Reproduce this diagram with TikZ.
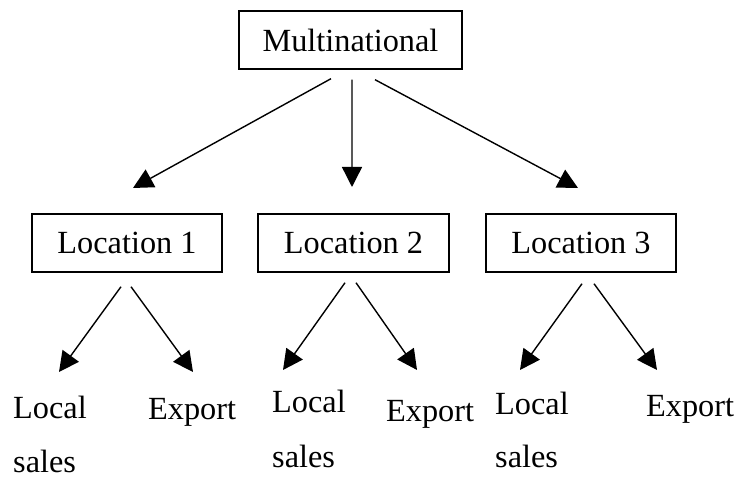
\documentclass[tikz,border=0pt]{standalone}
\usepackage{fontspec}
\setmainfont{Liberation Serif}
\usetikzlibrary{arrows.meta}
\begin{document}
\begin{tikzpicture}[x=1bp,y=1bp,
  every node/.style={font=\fontsize{32.3bp}{38bp}\selectfont, inner sep=0pt},
  boxnode/.style={draw, line width=1.4bp, minimum height=58bp},
  leaf/.style={anchor=base west},
  arr/.style={line width=1.4bp, -{Triangle[length=20bp,width=20bp]}}]
\useasboundingbox (0,0) rectangle (741,480);
% boxes
\node[boxnode, minimum width=223bp] (m) at (350.5,440) {Multinational};
\node[boxnode, minimum width=190bp] (l1) at (127,237) {Location 1};
\node[boxnode, minimum width=191bp] (l2) at (353.5,237) {Location 2};
\node[boxnode, minimum width=190bp] (l3) at (581,237) {Location 3};
% leaf texts
\node[leaf] (loc1) at (13,61) {Local};
\node[leaf] (sal1) at (13,7) {sales};
\node[leaf] (exp1) at (148,60) {Export};
\node[leaf] (loc2) at (272,67) {Local};
\node[leaf] (sal2) at (272,12) {sales};
\node[leaf] (exp2) at (386,58) {Export};
\node[leaf] (loc3) at (495,65) {Local};
\node[leaf] (sal3) at (495,12) {sales};
\node[leaf] (exp3) at (646,63) {Export};
% arrow tips
\coordinate (t1) at (133,292);
\coordinate (t2) at (352,293);
\coordinate (t3) at (578,292);
\coordinate (a1) at (59,108);
\coordinate (b1) at (193,108);
\coordinate (a2) at (283,110);
\coordinate (b2) at (417,110);
\coordinate (a3) at (520,110);
\coordinate (b3) at (657,110);
% connectors
\draw[arr] ([shift={(-19.5,-9)}]m.south) -- (t1);
\draw[arr] ([shift={(1.5,-10)}]m.south) -- (t2);
\draw[arr] ([shift={(24.5,-10)}]m.south) -- (t3);
\draw[arr] ([shift={(-6,-14)}]l1.south) -- (a1);
\draw[arr] ([shift={(4,-14)}]l1.south) -- (b1);
\draw[arr] ([shift={(-8.5,-10)}]l2.south) -- (a2);
\draw[arr] ([shift={(2.5,-10)}]l2.south) -- (b2);
\draw[arr] ([shift={(1,-11)}]l3.south) -- (a3);
\draw[arr] ([shift={(13,-11)}]l3.south) -- (b3);
\end{tikzpicture}
\end{document}
